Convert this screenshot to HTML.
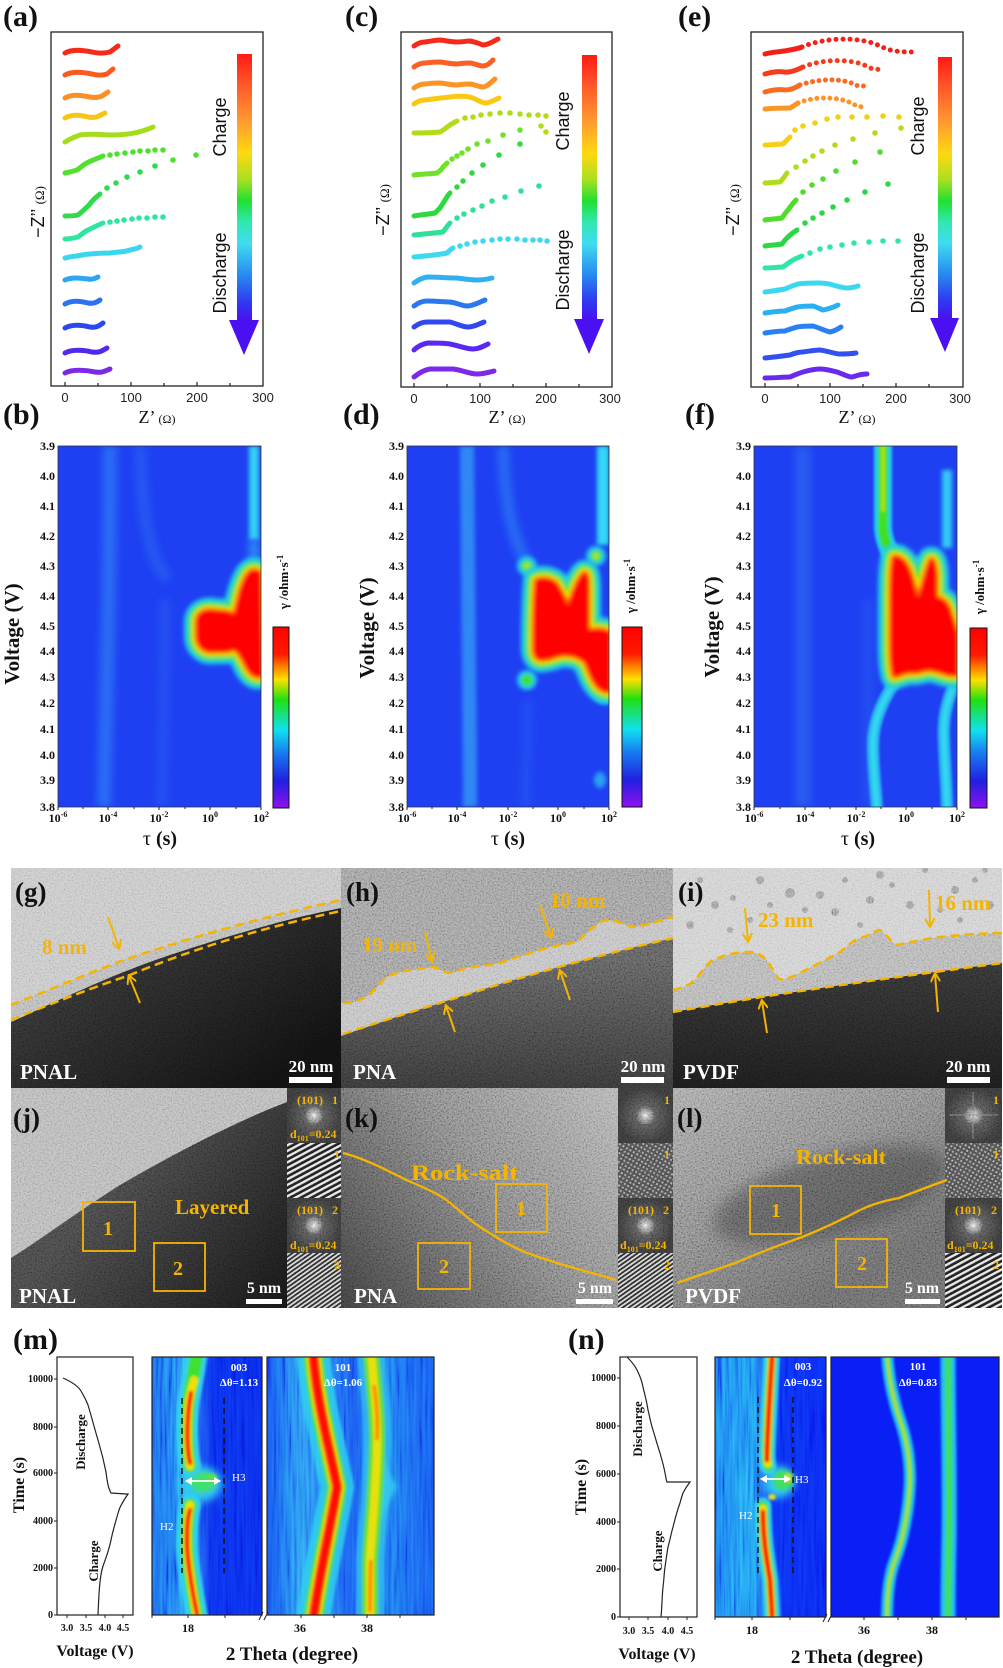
<!DOCTYPE html>
<html><head><meta charset="utf-8">
<style>
html,body{margin:0;padding:0;background:#fff;}
svg{display:block;}
.L{font-family:"Liberation Serif",serif;font-weight:bold;font-size:30px;fill:#111;}
.S{font-family:"Liberation Sans",sans-serif;}
.R{font-family:"Liberation Serif",serif;}
.B{font-family:"Liberation Serif",serif;font-weight:bold;}
.or{fill:#f5b400;}
.wh{fill:#fff;}
</style></head><body>
<svg width="1003" height="1668" viewBox="0 0 1003 1668" xmlns="http://www.w3.org/2000/svg">
<defs>
<linearGradient id="arrowG" x1="0" y1="0" x2="0" y2="1">
<stop offset="0" stop-color="#ff1a14"/><stop offset="0.12" stop-color="#ff5a2a"/><stop offset="0.25" stop-color="#ff9a30"/><stop offset="0.37" stop-color="#ffd810"/><stop offset="0.47" stop-color="#a8e020"/><stop offset="0.55" stop-color="#20e030"/><stop offset="0.63" stop-color="#30e8b0"/><stop offset="0.71" stop-color="#40dcf0"/><stop offset="0.82" stop-color="#2890f0"/><stop offset="0.93" stop-color="#3038f0"/><stop offset="1" stop-color="#4a10f0"/>
</linearGradient>
<linearGradient id="cbG" x1="0" y1="0" x2="0" y2="1">
<stop offset="0" stop-color="#ff0000"/><stop offset="0.15" stop-color="#ff1a00"/><stop offset="0.22" stop-color="#ff8000"/><stop offset="0.29" stop-color="#ffe000"/><stop offset="0.4" stop-color="#20e010"/><stop offset="0.57" stop-color="#10e0f0"/><stop offset="0.7" stop-color="#1878f0"/><stop offset="0.85" stop-color="#2020e0"/><stop offset="1" stop-color="#9010f0"/>
</linearGradient>
<filter id="b1" filterUnits="userSpaceOnUse" x="0" y="0" width="1003" height="1668"><feGaussianBlur stdDeviation="1.2"/></filter>
<filter id="b2" filterUnits="userSpaceOnUse" x="0" y="0" width="1003" height="1668"><feGaussianBlur stdDeviation="2"/></filter>
<filter id="b4" filterUnits="userSpaceOnUse" x="0" y="0" width="1003" height="1668"><feGaussianBlur stdDeviation="4"/></filter>
<filter id="b8" filterUnits="userSpaceOnUse" x="0" y="0" width="1003" height="1668"><feGaussianBlur stdDeviation="8"/></filter>
<filter id="nz" filterUnits="userSpaceOnUse" x="11" y="868" width="991" height="440">
<feTurbulence type="fractalNoise" baseFrequency="0.65" numOctaves="2" seed="5"/>
<feColorMatrix type="matrix" values="1.6 0 0 0 -0.3  1.6 0 0 0 -0.3  1.6 0 0 0 -0.3  0 0 0 0 1"/>
</filter>
<filter id="nzs" filterUnits="userSpaceOnUse" x="140" y="1350" width="870" height="275">
<feTurbulence type="fractalNoise" baseFrequency="0.35 0.015" numOctaves="2" seed="3"/>
<feColorMatrix type="matrix" values="1.8 0 0 0 -0.4  1.8 0 0 0 -0.4  1.8 0 0 0 -0.4  0 0 0 0 1"/>
</filter>
<pattern id="lat1" width="5" height="5" patternUnits="userSpaceOnUse" patternTransform="rotate(-28)"><rect width="5" height="5" fill="#1e1e1e"/><rect width="5" height="2.3" fill="#e6e6e6"/></pattern>
<pattern id="lat2" width="3.6" height="3.6" patternUnits="userSpaceOnUse" patternTransform="rotate(-35)"><rect width="3.6" height="3.6" fill="#2a2a2a"/><rect width="3.6" height="1.7" fill="#d8d8d8"/></pattern>
<pattern id="lat3" width="4" height="4" patternUnits="userSpaceOnUse" patternTransform="rotate(30)"><rect width="4" height="4" fill="#4a4a4a"/><rect width="2" height="2" fill="#9a9a9a"/></pattern>
<radialGradient id="fft" cx="0.5" cy="0.5" r="0.5"><stop offset="0" stop-color="#f4f4f4"/><stop offset="0.1" stop-color="#b0b0b0"/><stop offset="0.35" stop-color="#545454"/><stop offset="1" stop-color="#363636"/></radialGradient>
<linearGradient id="gDark" gradientUnits="userSpaceOnUse" x1="150" y1="930" x2="260" y2="1088"><stop offset="0" stop-color="#2e2e2e"/><stop offset="1" stop-color="#101010"/></linearGradient>
<linearGradient id="hDark" gradientUnits="userSpaceOnUse" x1="0" y1="960" x2="0" y2="1088"><stop offset="0" stop-color="#5a5a5a"/><stop offset="1" stop-color="#343434"/></linearGradient>
<linearGradient id="iDark" gradientUnits="userSpaceOnUse" x1="0" y1="970" x2="0" y2="1088"><stop offset="0" stop-color="#303030"/><stop offset="1" stop-color="#1a1a1a"/></linearGradient>
<linearGradient id="jDark" gradientUnits="userSpaceOnUse" x1="120" y1="1170" x2="287" y2="1308"><stop offset="0" stop-color="#444"/><stop offset="1" stop-color="#141414"/></linearGradient>
<linearGradient id="kBg" gradientUnits="userSpaceOnUse" x1="618" y1="1088" x2="341" y2="1308"><stop offset="0" stop-color="#acacac"/><stop offset="0.5" stop-color="#787878"/><stop offset="1" stop-color="#3a3a3a"/></linearGradient>
<linearGradient id="lBg" gradientUnits="userSpaceOnUse" x1="673" y1="1088" x2="800" y2="1308"><stop offset="0" stop-color="#a0a0a0"/><stop offset="1" stop-color="#646464"/></linearGradient>
<linearGradient id="mL" x1="0" y1="0" x2="1" y2="0"><stop offset="0" stop-color="#1a60ec"/><stop offset="0.2" stop-color="#1e74f0"/><stop offset="0.3" stop-color="#2a94f0"/><stop offset="0.45" stop-color="#1848f0"/><stop offset="0.55" stop-color="#0a2cec"/><stop offset="1" stop-color="#0a2aec"/></linearGradient>
<linearGradient id="mR" x1="0" y1="0" x2="1" y2="0"><stop offset="0" stop-color="#1650f0"/><stop offset="0.08" stop-color="#1c68f0"/><stop offset="0.2" stop-color="#2a90f0"/><stop offset="0.5" stop-color="#1a58f0"/><stop offset="0.75" stop-color="#1c70f0"/><stop offset="0.9" stop-color="#1a60f0"/><stop offset="1" stop-color="#1656f0"/></linearGradient>
<linearGradient id="nL" x1="0" y1="0" x2="1" y2="0"><stop offset="0" stop-color="#1a74f0"/><stop offset="0.2" stop-color="#1e86f0"/><stop offset="0.33" stop-color="#2090f0"/><stop offset="0.42" stop-color="#1a5cf0"/><stop offset="0.5" stop-color="#0a2ef2"/><stop offset="1" stop-color="#0a26f2"/></linearGradient>
<clipPath id="cb"><rect x="58" y="446" width="203" height="361"/></clipPath>
<clipPath id="cd"><rect x="407" y="446" width="202" height="361"/></clipPath>
<clipPath id="cf"><rect x="754" y="446" width="203" height="361"/></clipPath>
<clipPath id="cml"><rect x="152" y="1357" width="110" height="258"/></clipPath>
<clipPath id="cmr"><rect x="267" y="1357" width="167" height="258"/></clipPath>
<clipPath id="cnl"><rect x="715" y="1357" width="111" height="260"/></clipPath>
<clipPath id="cnr"><rect x="831" y="1357" width="168" height="260"/></clipPath>
<clipPath id="cg"><rect x="11" y="868" width="330" height="220"/></clipPath>
<clipPath id="ch"><rect x="341" y="868" width="332" height="220"/></clipPath>
<clipPath id="ci"><rect x="673" y="868" width="329" height="220"/></clipPath>
<clipPath id="cj"><rect x="11" y="1088" width="276" height="220"/></clipPath>
<clipPath id="ck"><rect x="341" y="1088" width="277" height="220"/></clipPath>
<clipPath id="cl"><rect x="673" y="1088" width="272" height="220"/></clipPath>
<path id="pb" d="M196,622 C196,612 205,608 215,610 C222,611 228,610 234,614 C237,600 240,585 246,575 C252,566 258,570 261,572 L263,676 C256,680 250,675 246,668 C242,660 238,652 234,650 C228,653 222,652 215,652 C205,654 196,648 196,635 Z"/>
<path id="pd" d="M535,580 C542,576 550,578 556,582 C562,590 566,600 568,605 C572,592 578,576 584,572 C588,572 589,576 589,590 L589,630 C595,628 603,628 611,632 L611,692 C603,694 596,688 592,680 C588,672 586,665 584,662 C578,658 574,656 568,656 C560,654 552,660 545,660 C538,662 533,658 533,648 C533,630 533,605 535,580 Z"/>
<path id="pf" d="M893,556 C900,555 906,560 910,570 C914,580 916,592 918,597 C922,585 926,565 930,559 C934,557 936,562 937,575 L937,597 C942,598 946,600 949,606 C952,614 955,625 958,633 L958,675 C950,678 940,672 933,671 C925,669 920,674 913,673 C905,672 898,678 893,677 C889,665 890,640 890,610 C890,585 890,565 893,556 Z"/>
<marker id="ah" markerWidth="10" markerHeight="10" refX="8" refY="5" orient="auto" markerUnits="userSpaceOnUse"><path d="M0,0 L9,5 L0,10" fill="none" stroke="#f5b400" stroke-width="2"/></marker>
<marker id="wh" markerWidth="8" markerHeight="8" refX="6" refY="4" orient="auto-start-reverse" markerUnits="userSpaceOnUse"><path d="M0,0 L7,4 L0,8 Z" fill="#fff"/></marker>
</defs>

<!-- ===== Row 1: EIS panels ===== -->
<text class="L" x="3" y="26">(a)</text>
<text class="L" x="345" y="26">(c)</text>
<text class="L" x="678" y="26">(e)</text>

<g fill="none" stroke="#222" stroke-width="1.3">
<rect x="51" y="32" width="212" height="354"/>
<rect x="401" y="32" width="211" height="355"/>
<rect x="751" y="32" width="212" height="355"/>
</g>
<g stroke="#222" stroke-width="1.2">
<path d="M65,386v-4M98,386v-3M131,386v-4M164,386v-3M197,386v-4M230,386v-3"/>
<path d="M414,387v-4M447,387v-3M480,387v-4M513,387v-3M546,387v-4M579,387v-3"/>
<path d="M765,387v-4M798,387v-3M830,387v-4M863,387v-3M896,387v-4M929,387v-3"/>
</g>
<g class="S" font-size="13" fill="#222" text-anchor="middle">
<text x="65" y="402">0</text><text x="131" y="402">100</text><text x="197" y="402">200</text><text x="263" y="402">300</text>
<text x="414" y="403">0</text><text x="480" y="403">100</text><text x="546" y="403">200</text><text x="610" y="403">300</text>
<text x="765" y="403">0</text><text x="830" y="403">100</text><text x="896" y="403">200</text><text x="960" y="403">300</text>
</g>
<g class="R" fill="#111" text-anchor="middle">
<text x="157" y="423"><tspan font-size="18">Z’</tspan><tspan font-size="12"> (Ω)</tspan></text>
<text x="507" y="423"><tspan font-size="18">Z’</tspan><tspan font-size="12"> (Ω)</tspan></text>
<text x="857" y="423"><tspan font-size="18">Z’</tspan><tspan font-size="12"> (Ω)</tspan></text>
</g>
<g fill="#111" text-anchor="middle">
<text transform="translate(44,212) rotate(-90)"><tspan class="S" font-size="18">−Z’’ </tspan><tspan class="R" font-size="13">(Ω)</tspan></text>
<text transform="translate(389,210) rotate(-90)"><tspan class="S" font-size="18">−Z’’ </tspan><tspan class="R" font-size="13">(Ω)</tspan></text>
<text transform="translate(739,210) rotate(-90)"><tspan class="S" font-size="18">−Z’’ </tspan><tspan class="R" font-size="13">(Ω)</tspan></text>
</g>
<!-- arrows -->
<rect x="237" y="54" width="15" height="267" fill="url(#arrowG)"/>
<polygon points="229,320 259,320 244,355" fill="#4a10f2"/>
<rect x="582" y="55" width="15" height="265" fill="url(#arrowG)"/>
<polygon points="574,319 604,319 589,354" fill="#4a10f2"/>
<rect x="938" y="57" width="14" height="262" fill="url(#arrowG)"/>
<polygon points="930,318 959,318 945,352" fill="#4a10f2"/>
<g class="S" font-size="18" fill="#111" text-anchor="middle">
<text transform="translate(226,127) rotate(-90)">Charge</text>
<text transform="translate(226,273) rotate(-90)">Discharge</text>
<text transform="translate(569,121) rotate(-90)">Charge</text>
<text transform="translate(569,270) rotate(-90)">Discharge</text>
<text transform="translate(924,126) rotate(-90)">Charge</text>
<text transform="translate(924,273) rotate(-90)">Discharge</text>
</g>

<!-- (a) curves -->
<g fill="none" stroke-width="5" stroke-linecap="round" stroke-linejoin="round">
<path stroke="#f42b1b" d="M65,53 C72,49 82,50 92,52 C100,54 106,53 110,52 L118,46"/>
<path stroke="#fa5a22" d="M65,75 C72,71 82,72 92,74 C99,76 104,75 107,74 L113,69"/>
<path stroke="#fb8f25" d="M65,98 C72,94 80,95 90,97 C96,98 100,97 102,96 L108,92"/>
<path stroke="#f9c515" d="M65,118 C72,114 80,115 88,117 C94,118 97,117 99,116 L105,113"/>
<path stroke="#a5dc1c" d="M65,142 C70,139 74,137 80,135 C90,133 100,135 112,135 C125,135 140,133 153,127"/>
<path stroke="#4fe030" d="M65,173 C70,172 74,171 77,170 C80,168 82,166 85,164 C90,161 96,159 103,156"/>
<path stroke="#32d94a" d="M65,216 C70,216 74,216 78,215 C82,212 86,208 89,205 C92,201 96,197 100,194"/>
<path stroke="#2fe6a0" d="M65,239 C70,239 74,238 78,237 C81,235 83,233 86,231 C90,229 96,226 103,223"/>
<path stroke="#3ad6f0" d="M65,258 C70,257 73,256 77,256 C82,255 86,254 90,254 C100,253 105,253 110,253 C118,252 125,252 130,250 C135,249 138,248 140,247"/>
<path stroke="#2aa6f2" d="M65,280 C72,277 80,278 88,279 C93,280 96,278 98,277"/>
<path stroke="#2a74f2" d="M65,304 C72,300 80,301 88,303 C94,304 97,302 100,300"/>
<path stroke="#2a48f0" d="M65,328 C72,324 82,325 90,327 C96,328 99,326 103,323"/>
<path stroke="#5128ee" d="M65,353 C72,349 84,350 92,352 C99,353 102,351 107,348"/>
<path stroke="#7a2ae6" d="M65,373 C72,369 86,370 95,372 C102,373 105,371 110,369"/>
</g>
<g fill="#4fe030"><circle cx="110" cy="155" r="2.8"/><circle cx="117" cy="154" r="2.8"/><circle cx="125" cy="153" r="2.8"/><circle cx="133" cy="152" r="2.8"/><circle cx="140" cy="151" r="2.8"/><circle cx="148" cy="151" r="2.8"/><circle cx="155" cy="150" r="2.8"/><circle cx="163" cy="150" r="2.8"/><circle cx="173" cy="160" r="2.8"/><circle cx="196" cy="155" r="2.8"/></g>
<g fill="#32d94a"><circle cx="107" cy="188" r="2.8"/><circle cx="116" cy="183" r="2.8"/><circle cx="127" cy="177" r="2.8"/><circle cx="140" cy="172" r="2.8"/><circle cx="155" cy="166" r="2.8"/></g>
<g fill="#2fe6a0"><circle cx="110" cy="222" r="2.8"/><circle cx="117" cy="221" r="2.8"/><circle cx="124" cy="220" r="2.8"/><circle cx="132" cy="219" r="2.8"/><circle cx="139" cy="218" r="2.8"/><circle cx="147" cy="218" r="2.8"/><circle cx="155" cy="217" r="2.8"/><circle cx="163" cy="217" r="2.8"/></g>

<!-- (c) curves -->
<g fill="none" stroke-width="5" stroke-linecap="round" stroke-linejoin="round">
<path stroke="#f42b1b" d="M414,46 C418,43 421,42 425,42 C432,41 436,40 440,40 C448,41 452,42 457,42 C463,42 466,41 470,41 C476,42 480,44 483,45 C488,45 492,42 498,39"/>
<path stroke="#fa6022" d="M414,67 C418,64 421,63 425,63 C432,62 436,62 440,62 C448,63 452,64 457,64 C463,63 466,63 470,63 C476,64 480,66 483,66 C487,66 490,63 493,60"/>
<path stroke="#fb9325" d="M414,88 C418,85 421,84 425,84 C432,83 436,83 440,83 C448,84 452,85 457,85 C463,84 466,84 470,84 C476,85 480,87 483,87 C487,87 490,83 495,79"/>
<path stroke="#f9c815" d="M414,104 C418,101 421,100 425,100 C432,99 440,98 450,97 C458,96 464,96 470,97 C476,99 480,102 485,103 C490,103 494,100 499,98"/>
<path stroke="#b0dc1c" d="M414,133 C420,133 430,133 440,132 C444,130 447,127 450,125 C453,123 455,122 457,121"/>
<path stroke="#70e028" d="M414,175 C420,174 430,174 437,173 C440,171 442,169 443,167 C445,165 446,164 447,163"/>
<path stroke="#2fd840" d="M414,216 C420,215 430,214 435,213 C437,211 439,209 440,208 C442,205 444,202 445,200 C447,197 448,195 450,193"/>
<path stroke="#30e098" d="M414,235 C425,234 435,233 443,232 C446,228 448,225 450,223"/>
<path stroke="#40d8f0" d="M414,257 C425,256 438,255 447,253 C449,251 451,249 453,248"/>
<path stroke="#30b0f0" d="M414,283 C418,280 422,278 427,277 C437,277 447,278 457,278 C465,279 471,280 477,280 C483,280 488,279 492,278"/>
<path stroke="#2a78f0" d="M414,306 C418,303 422,301 427,301 C437,301 444,302 450,302 C458,303 462,306 467,306 C473,306 480,302 485,300"/>
<path stroke="#3048f0" d="M414,327 C418,324 422,322 427,322 C437,322 444,322 450,322 C458,324 462,327 468,327 C474,327 479,324 484,322"/>
<path stroke="#5a28f0" d="M414,350 C418,346 422,344 428,343 C437,343 444,343 450,344 C460,346 466,349 473,349 C479,349 484,346 488,344"/>
<path stroke="#7a2ae8" d="M414,377 C419,373 424,370 430,369 C440,369 447,369 453,369 C462,370 470,374 477,374 C484,374 490,372 494,371"/>
</g>
<g fill="#b0dc1c"><circle cx="465" cy="118" r="2.8"/><circle cx="473" cy="117" r="2.8"/><circle cx="481" cy="115" r="2.8"/><circle cx="490" cy="114" r="2.8"/><circle cx="500" cy="113" r="2.8"/><circle cx="510" cy="113" r="2.8"/><circle cx="520" cy="114" r="2.8"/><circle cx="529" cy="115" r="2.8"/><circle cx="538" cy="115" r="2.8"/><circle cx="546" cy="116" r="2.8"/><circle cx="541" cy="126" r="2.8"/><circle cx="546" cy="132" r="2.8"/></g>
<g fill="#70e028"><circle cx="452" cy="159" r="2.8"/><circle cx="457" cy="156" r="2.8"/><circle cx="462" cy="153" r="2.8"/><circle cx="468" cy="149" r="2.8"/><circle cx="477" cy="144" r="2.8"/><circle cx="488" cy="141" r="2.8"/><circle cx="503" cy="135" r="2.8"/><circle cx="520" cy="130" r="2.8"/></g>
<g fill="#2fd840"><circle cx="457" cy="187" r="2.8"/><circle cx="463" cy="181" r="2.8"/><circle cx="472" cy="173" r="2.8"/><circle cx="483" cy="165" r="2.8"/><circle cx="499" cy="155" r="2.8"/><circle cx="520" cy="144" r="2.8"/></g>
<g fill="#30e098"><circle cx="457" cy="218" r="2.8"/><circle cx="464" cy="214" r="2.8"/><circle cx="473" cy="210" r="2.8"/><circle cx="482" cy="206" r="2.8"/><circle cx="492" cy="201" r="2.8"/><circle cx="505" cy="197" r="2.8"/><circle cx="521" cy="191" r="2.8"/><circle cx="539" cy="186" r="2.8"/></g>
<g fill="#40d8f0"><circle cx="460" cy="246" r="2.8"/><circle cx="467" cy="244" r="2.8"/><circle cx="475" cy="242" r="2.8"/><circle cx="483" cy="241" r="2.8"/><circle cx="492" cy="240" r="2.8"/><circle cx="500" cy="239" r="2.8"/><circle cx="508" cy="239" r="2.8"/><circle cx="517" cy="239" r="2.8"/><circle cx="525" cy="240" r="2.8"/><circle cx="533" cy="240" r="2.8"/><circle cx="540" cy="240" r="2.8"/><circle cx="547" cy="241" r="2.8"/></g>

<!-- (e) curves -->
<g fill="none" stroke-width="5" stroke-linecap="round" stroke-linejoin="round">
<path stroke="#f42018" d="M765,54 C772,52 778,52 784,51 C790,50 797,49 802,47"/>
<path stroke="#f42018" stroke-dasharray="0 7" d="M802,47 C825,37 862,36 882,47 C892,52 905,52 915,52"/>
<path stroke="#f63a1c" d="M765,74 C772,72 778,71 784,72 C790,73 797,70 803,67"/>
<path stroke="#f63a1c" stroke-dasharray="0 7" d="M803,67 C825,58 855,59 868,67 C874,70 879,70 883,68"/>
<path stroke="#fa6a20" d="M765,92 C772,90 778,89 785,90 C792,90 796,87 800,85"/>
<path stroke="#fa6a20" stroke-dasharray="0 6.5" d="M800,85 C820,78 845,78 858,86 L866,86"/>
<path stroke="#fb9525" d="M765,109 C775,108 782,108 790,108 C794,106 796,104 798,103"/>
<path stroke="#fb9525" stroke-dasharray="0 6.5" d="M798,103 C815,96 840,96 855,105 L862,107"/>
<path stroke="#f5d010" d="M765,145 C772,145 778,144 783,144 C786,141 788,139 790,137"/>
<path stroke="#b0dc1c" d="M765,183 C770,183 776,182 780,182 C783,179 785,176 787,173"/>
<path stroke="#50dc2c" d="M765,220 C770,219 776,219 782,218 C784,215 786,212 788,210 C791,206 793,203 796,200"/>
<path stroke="#2ad846" d="M765,246 C770,245 776,245 782,244 C784,241 786,239 788,237 C791,234 794,232 797,230"/>
<path stroke="#2ee6a8" d="M765,268 C772,268 778,267 783,267 C786,265 788,263 790,262 C794,259 797,258 802,256"/>
<path stroke="#3ad8f0" d="M765,292 C772,291 780,290 785,289 C790,287 794,285 798,284 C805,283 812,283 817,283 C825,283 830,284 833,285 C840,287 845,288 847,288 C852,288 855,287 858,286"/>
<path stroke="#2ab0f2" d="M765,313 C772,312 780,311 785,311 C790,309 794,308 797,307 C803,306 808,306 813,306 C817,307 820,309 823,310 C829,309 834,307 838,305"/>
<path stroke="#2a80f2" d="M765,333 C772,332 780,331 785,331 C790,329 794,328 797,327 C803,326 808,326 813,326 C820,328 825,331 830,332 C835,331 838,329 841,327"/>
<path stroke="#3050f0" d="M765,358 C775,357 783,356 790,355 C795,353 799,352 803,352 C810,351 815,350 820,350 C828,351 835,354 840,354 C845,354 850,354 856,353"/>
<path stroke="#6a2aee" d="M765,378 C775,378 783,377 790,377 C795,375 799,373 803,372 C810,370 815,369 820,369 C827,369 832,371 837,372 C843,374 848,377 852,377 C856,376 860,374 867,374"/>
</g>
<g fill="#f5d010"><circle cx="795" cy="130" r="2.8"/><circle cx="803" cy="126" r="2.8"/><circle cx="815" cy="123" r="2.8"/><circle cx="827" cy="119" r="2.8"/><circle cx="838" cy="117" r="2.8"/><circle cx="852" cy="117" r="2.8"/><circle cx="867" cy="117" r="2.8"/><circle cx="883" cy="116" r="2.8"/><circle cx="899" cy="117" r="2.8"/></g>
<circle cx="901" cy="128" r="2.8" fill="#b8dc1a"/>
<g fill="#b0dc1c"><circle cx="796" cy="167" r="2.8"/><circle cx="805" cy="161" r="2.8"/><circle cx="813" cy="156" r="2.8"/><circle cx="822" cy="151" r="2.8"/><circle cx="835" cy="145" r="2.8"/><circle cx="853" cy="139" r="2.8"/><circle cx="875" cy="133" r="2.8"/></g>
<g fill="#50dc2c"><circle cx="803" cy="192" r="2.8"/><circle cx="812" cy="185" r="2.8"/><circle cx="823" cy="179" r="2.8"/><circle cx="836" cy="171" r="2.8"/><circle cx="855" cy="162" r="2.8"/><circle cx="880" cy="152" r="2.8"/></g>
<g fill="#2ad846"><circle cx="805" cy="223" r="2.8"/><circle cx="813" cy="218" r="2.8"/><circle cx="822" cy="213" r="2.8"/><circle cx="833" cy="207" r="2.8"/><circle cx="847" cy="200" r="2.8"/><circle cx="865" cy="192" r="2.8"/><circle cx="888" cy="184" r="2.8"/></g>
<g fill="#2ee6a8"><circle cx="810" cy="253" r="2.8"/><circle cx="820" cy="249" r="2.8"/><circle cx="830" cy="247" r="2.8"/><circle cx="842" cy="245" r="2.8"/><circle cx="854" cy="243" r="2.8"/><circle cx="869" cy="242" r="2.8"/><circle cx="883" cy="241" r="2.8"/><circle cx="898" cy="241" r="2.8"/></g>

<!-- ===== Row 2: DRT heatmaps ===== -->
<text class="L" x="3" y="424">(b)</text>
<text class="L" x="343" y="424">(d)</text>
<text class="L" x="685" y="424">(f)</text>

<!-- (b) -->
<g clip-path="url(#cb)">
<rect x="58" y="446" width="203" height="361" fill="#1e40f2"/>
<path d="M110,446 C110,600 106,700 104,807" stroke="#2f7cf5" stroke-width="14" fill="none" filter="url(#b4)" opacity="0.75"/>
<path d="M140,446 C142,520 150,560 168,580" stroke="#2a62f4" stroke-width="12" fill="none" filter="url(#b4)" opacity="0.7"/>
<path d="M165,600 C165,680 163,750 162,807" stroke="#2a5ef4" stroke-width="10" fill="none" filter="url(#b4)" opacity="0.6"/>
<path d="M254,446 L254,540" stroke="#30d0f5" stroke-width="10" fill="none" filter="url(#b2)"/>
<path d="M254,540 L254,600" stroke="#2a8af5" stroke-width="10" fill="none" filter="url(#b4)"/>
<g filter="url(#b2)" stroke-linejoin="round">
<use href="#pb" fill="#22c8f2" stroke="#22c8f2" stroke-width="24"/>
<use href="#pb" fill="#2ee0a0" stroke="#2ee0a0" stroke-width="18"/>
<use href="#pb" fill="#40e020" stroke="#40e020" stroke-width="13"/>
<use href="#pb" fill="#f0f000" stroke="#f0f000" stroke-width="8"/>
<use href="#pb" fill="#ff7800" stroke="#ff7800" stroke-width="4"/>
<use href="#pb" fill="#ff0000"/>
</g>
</g>
<rect x="58" y="446" width="203" height="361" fill="none" stroke="#333" stroke-width="0.8"/>

<!-- (d) -->
<g clip-path="url(#cd)">
<rect x="407" y="446" width="202" height="361" fill="#1e40f2"/>
<path d="M467,446 C468,600 470,700 470,807" stroke="#3090f5" stroke-width="14" fill="none" filter="url(#b2)" opacity="0.9"/>
<path d="M503,446 C505,500 510,530 525,560" stroke="#2a74f5" stroke-width="12" fill="none" filter="url(#b4)" opacity="0.8"/>
<path d="M603,446 L603,545" stroke="#30d8f5" stroke-width="12" fill="none" filter="url(#b2)"/>
<path d="M528,700 C527,740 526,780 526,807" stroke="#2a5ef4" stroke-width="10" fill="none" filter="url(#b4)" opacity="0.5"/>
<ellipse cx="600" cy="780" rx="6" ry="8" fill="#2aa0f2" filter="url(#b2)"/>
<g filter="url(#b2)" stroke-linecap="round">
<path d="M527,566 L527,566 M596,556 L596,556 M527,680 L527,680 M603,693 L603,693" stroke="#22c8f2" stroke-width="20"/>
<path d="M527,566 L527,566 M596,556 L596,556 M527,680 L527,680 M603,693 L603,693" stroke="#40e020" stroke-width="12"/>
<path d="M527,566 L527,566 M596,556 L596,556" stroke="#d8f000" stroke-width="5"/>
</g>
<g filter="url(#b2)" stroke-linejoin="round">
<use href="#pd" fill="#22c8f2" stroke="#22c8f2" stroke-width="24"/>
<use href="#pd" fill="#2ee0a0" stroke="#2ee0a0" stroke-width="18"/>
<use href="#pd" fill="#40e020" stroke="#40e020" stroke-width="13"/>
<use href="#pd" fill="#f0f000" stroke="#f0f000" stroke-width="8"/>
<use href="#pd" fill="#ff7800" stroke="#ff7800" stroke-width="4"/>
<use href="#pd" fill="#ff0000"/>
</g>
</g>
<rect x="407" y="446" width="202" height="361" fill="none" stroke="#333" stroke-width="0.8"/>

<!-- (f) -->
<g clip-path="url(#cf)">
<rect x="754" y="446" width="203" height="361" fill="#1e40f2"/>
<path d="M803,446 L803,807" stroke="#2a62f2" stroke-width="16" fill="none" filter="url(#b4)" opacity="0.8"/>
<path d="M868,600 L868,807" stroke="#2a5ef2" stroke-width="10" fill="none" filter="url(#b4)" opacity="0.5"/>
<path d="M947,470 L947,548" stroke="#30c8f5" stroke-width="10" fill="none" filter="url(#b2)"/>
<g filter="url(#b1)" fill="none" stroke-linecap="round">
<path d="M883,446 L883,528 C884,540 888,550 893,556" stroke="#22c8f2" stroke-width="18"/>
<path d="M883,446 L883,528 C884,540 888,550 893,556" stroke="#40e020" stroke-width="10"/>
<path d="M883,446 L883,510" stroke="#a8e020" stroke-width="4"/>
<path d="M893,685 C880,705 873,725 873,745 C873,770 876,790 877,810" stroke="#2ab8f2" stroke-width="12"/>
<path d="M893,685 C880,705 873,725 873,745 C873,770 876,790 877,810" stroke="#30d8f0" stroke-width="5"/>
<path d="M952,690 C946,705 943,720 944,740 C945,770 947,790 947,810" stroke="#2ab8f2" stroke-width="12"/>
<path d="M952,690 C946,705 943,720 944,740 C945,770 947,790 947,810" stroke="#30d8f0" stroke-width="5"/>
</g>
<g filter="url(#b2)" stroke-linejoin="round">
<use href="#pf" fill="#22c8f2" stroke="#22c8f2" stroke-width="24"/>
<use href="#pf" fill="#2ee0a0" stroke="#2ee0a0" stroke-width="18"/>
<use href="#pf" fill="#40e020" stroke="#40e020" stroke-width="13"/>
<use href="#pf" fill="#f0f000" stroke="#f0f000" stroke-width="8"/>
<use href="#pf" fill="#ff7800" stroke="#ff7800" stroke-width="4"/>
<use href="#pf" fill="#ff0000"/>
</g>
</g>
<rect x="754" y="446" width="203" height="361" fill="none" stroke="#333" stroke-width="0.8"/>

<!-- DRT axes -->
<g class="B" font-size="12" fill="#111" text-anchor="end">
<text x="55" y="450">3.9</text><text x="55" y="480">4.0</text><text x="55" y="510">4.1</text><text x="55" y="540">4.2</text><text x="55" y="570">4.3</text><text x="55" y="600">4.4</text><text x="55" y="630">4.5</text><text x="55" y="655">4.4</text><text x="55" y="681">4.3</text><text x="55" y="707">4.2</text><text x="55" y="733">4.1</text><text x="55" y="759">4.0</text><text x="55" y="784">3.9</text><text x="55" y="811">3.8</text>
<text x="404" y="450">3.9</text><text x="404" y="480">4.0</text><text x="404" y="510">4.1</text><text x="404" y="540">4.2</text><text x="404" y="570">4.3</text><text x="404" y="600">4.4</text><text x="404" y="630">4.5</text><text x="404" y="655">4.4</text><text x="404" y="681">4.3</text><text x="404" y="707">4.2</text><text x="404" y="733">4.1</text><text x="404" y="759">4.0</text><text x="404" y="784">3.9</text><text x="404" y="811">3.8</text>
<text x="751" y="450">3.9</text><text x="751" y="480">4.0</text><text x="751" y="510">4.1</text><text x="751" y="540">4.2</text><text x="751" y="570">4.3</text><text x="751" y="600">4.4</text><text x="751" y="630">4.5</text><text x="751" y="655">4.4</text><text x="751" y="681">4.3</text><text x="751" y="707">4.2</text><text x="751" y="733">4.1</text><text x="751" y="759">4.0</text><text x="751" y="784">3.9</text><text x="751" y="811">3.8</text>
</g>
<g stroke="#222" stroke-width="1">
<path d="M58,807v3M108,807v3M159,807v3M210,807v3M261,807v3M83,807v2M134,807v2M185,807v2M236,807v2"/>
<path d="M407,807v3M457,807v3M508,807v3M558,807v3M609,807v3M432,807v2M483,807v2M533,807v2M584,807v2"/>
<path d="M754,807v3M805,807v3M856,807v3M906,807v3M957,807v3M780,807v2M830,807v2M881,807v2M932,807v2"/>
</g>
<g class="B" font-size="12" fill="#111" text-anchor="middle">
<text x="58" y="822">10<tspan font-size="8" dy="-5">-6</tspan></text><text x="108" y="822">10<tspan font-size="8" dy="-5">-4</tspan></text><text x="159" y="822">10<tspan font-size="8" dy="-5">-2</tspan></text><text x="210" y="822">10<tspan font-size="8" dy="-5">0</tspan></text><text x="261" y="822">10<tspan font-size="8" dy="-5">2</tspan></text>
<text x="407" y="822">10<tspan font-size="8" dy="-5">-6</tspan></text><text x="457" y="822">10<tspan font-size="8" dy="-5">-4</tspan></text><text x="508" y="822">10<tspan font-size="8" dy="-5">-2</tspan></text><text x="558" y="822">10<tspan font-size="8" dy="-5">0</tspan></text><text x="609" y="822">10<tspan font-size="8" dy="-5">2</tspan></text>
<text x="754" y="822">10<tspan font-size="8" dy="-5">-6</tspan></text><text x="805" y="822">10<tspan font-size="8" dy="-5">-4</tspan></text><text x="856" y="822">10<tspan font-size="8" dy="-5">-2</tspan></text><text x="906" y="822">10<tspan font-size="8" dy="-5">0</tspan></text><text x="957" y="822">10<tspan font-size="8" dy="-5">2</tspan></text>
</g>
<g class="B" font-size="20" fill="#111" text-anchor="middle">
<text x="160" y="845"><tspan font-weight="normal">τ</tspan>  (s)</text>
<text x="508" y="845"><tspan font-weight="normal">τ</tspan>  (s)</text>
<text x="858" y="845"><tspan font-weight="normal">τ</tspan>  (s)</text>
<text transform="translate(19,634) rotate(-90)" font-size="21">Voltage (V)</text>
<text transform="translate(374,628) rotate(-90)" font-size="21">Voltage (V)</text>
<text transform="translate(719,627) rotate(-90)" font-size="21">Voltage (V)</text>
</g>
<rect x="273" y="627" width="16" height="181" fill="url(#cbG)" stroke="#111" stroke-width="1"/>
<rect x="622" y="627" width="20" height="180" fill="url(#cbG)" stroke="#111" stroke-width="1"/>
<rect x="970" y="628" width="17" height="180" fill="url(#cbG)" stroke="#111" stroke-width="1"/>
<g class="B" font-size="13" fill="#111" text-anchor="middle">
<text transform="translate(288,582) rotate(-90)">γ /ohm·s<tspan font-size="9" dy="-5">-1</tspan></text>
<text transform="translate(635,586) rotate(-90)">γ /ohm·s<tspan font-size="9" dy="-5">-1</tspan></text>
<text transform="translate(984,587) rotate(-90)">γ /ohm·s<tspan font-size="9" dy="-5">-1</tspan></text>
</g>

<!-- ===== TEM top row ===== -->
<!-- (g) -->
<g clip-path="url(#cg)">
<rect x="11" y="868" width="330" height="220" fill="#c2c2c2"/>
<path d="M11,1005 C50,990 90,972 130,958 C190,938 250,920 341,900 L341,912 C260,928 190,950 130,975 C100,985 60,1000 11,1020 Z" fill="#b4b4b4"/>
<path d="M11,1022 C60,1000 110,975 170,955 C230,935 290,918 341,908 L341,1088 L11,1088 Z" fill="url(#gDark)"/>
</g>
<!-- (h) -->
<g clip-path="url(#ch)">
<rect x="341" y="868" width="332" height="220" fill="#989898"/>
<path d="M341,1003 C355,1003 368,1000 383,980 C392,972 410,970 433,967 C440,968 445,973 450,973 C458,972 465,967 473,967 C485,966 495,964 500,963 C520,956 540,950 550,947 C565,944 572,943 577,942 C590,930 600,920 607,920 C618,920 625,925 633,927 C648,925 660,920 673,917 L673,940 C620,950 560,966 500,984 C450,1000 400,1015 341,1036 Z" fill="#bcbcbc"/>
<path d="M341,1036 C400,1015 450,1000 500,984 C560,966 620,950 673,938 L673,1088 L341,1088 Z" fill="url(#hDark)"/>
</g>
<!-- (i) -->
<g clip-path="url(#ci)">
<rect x="673" y="868" width="329" height="220" fill="#cccccc"/>
<g fill="#8a8a8a" opacity="0.75">
<circle cx="715" cy="905" r="4"/><circle cx="733" cy="898" r="3"/><circle cx="760" cy="880" r="4"/><circle cx="790" cy="893" r="5"/><circle cx="805" cy="910" r="3"/><circle cx="835" cy="912" r="4"/><circle cx="845" cy="880" r="3"/><circle cx="870" cy="900" r="4"/><circle cx="892" cy="885" r="3"/><circle cx="910" cy="905" r="4"/><circle cx="925" cy="870" r="3"/><circle cx="955" cy="890" r="4"/><circle cx="975" cy="880" r="3"/><circle cx="990" cy="905" r="4"/><circle cx="700" cy="880" r="3"/><circle cx="770" cy="905" r="3"/><circle cx="820" cy="895" r="4"/><circle cx="860" cy="925" r="3"/><circle cx="940" cy="910" r="3"/><circle cx="985" cy="870" r="3"/><circle cx="730" cy="930" r="3"/><circle cx="690" cy="925" r="4"/><circle cx="750" cy="920" r="3"/><circle cx="880" cy="875" r="4"/><circle cx="960" cy="920" r="3"/>
</g>
<path d="M673,990 C680,988 687,987 695,980 C703,970 708,962 713,960 C725,955 735,952 750,952 C765,953 770,965 777,977 C780,981 785,980 800,973 C815,965 830,958 840,952 C848,946 853,940 860,938 C870,936 875,930 880,930 C885,932 890,942 897,945 C910,942 925,939 940,937 C960,935 985,933 1002,933 L1002,963 C850,983 750,998 673,1012 Z" fill="#b0b0b0"/>
<path d="M673,1012 C750,998 850,983 1002,963 L1002,1088 L673,1088 Z" fill="url(#iDark)"/>
</g>

<!-- ===== TEM bottom row ===== -->
<!-- (j) -->
<g clip-path="url(#cj)">
<rect x="11" y="1088" width="276" height="220" fill="url(#jDark)"/>
<path d="M11,1088 L287,1088 L287,1102 C240,1120 180,1150 120,1185 C80,1210 40,1240 11,1258 Z" fill="#b2b2b2"/>
</g>
<rect x="287" y="1088" width="54" height="55" fill="url(#fft)"/>
<rect x="287" y="1143" width="54" height="55" fill="url(#lat1)"/>
<rect x="287" y="1198" width="54" height="55" fill="url(#fft)"/>
<rect x="287" y="1253" width="54" height="55" fill="url(#lat2)"/>
<!-- (k) -->
<g clip-path="url(#ck)">
<rect x="341" y="1088" width="277" height="220" fill="url(#kBg)"/>
</g>
<rect x="618" y="1088" width="55" height="55" fill="url(#fft)"/>
<rect x="618" y="1143" width="55" height="55" fill="url(#lat3)"/>
<rect x="618" y="1198" width="55" height="55" fill="url(#fft)"/>
<rect x="618" y="1253" width="55" height="55" fill="url(#lat2)"/>
<!-- (l) -->
<g clip-path="url(#cl)">
<rect x="673" y="1088" width="272" height="220" fill="url(#lBg)"/>
<ellipse cx="830" cy="1195" rx="120" ry="40" transform="rotate(-15 830 1195)" fill="#3a3a3a" opacity="0.5" filter="url(#b8)"/>
</g>
<rect x="945" y="1088" width="57" height="55" fill="url(#fft)"/>
<path d="M973,1092 L973,1139 M949,1115 L998,1115" stroke="#777" stroke-width="1"/>
<rect x="945" y="1143" width="57" height="55" fill="url(#lat3)"/>
<rect x="945" y="1198" width="57" height="55" fill="url(#fft)"/>
<rect x="945" y="1253" width="57" height="55" fill="url(#lat1)"/>

<!-- noise overlay -->
<rect x="11" y="868" width="991" height="440" fill="#808080" filter="url(#nz)" style="mix-blend-mode:overlay" opacity="0.4"/>

<!-- TEM annotations -->
<g fill="none" stroke="#f5b400" stroke-width="2.5" stroke-dasharray="9 5">
<path d="M11,1005 C50,990 90,972 130,958 C190,938 250,920 341,900"/>
<path d="M11,1020 C60,1000 100,985 130,975 C190,950 260,928 341,911"/>
<path d="M343,1003 C355,1003 368,1000 383,980 C392,972 410,970 433,967 C440,968 445,973 450,973 C458,972 465,967 473,967 C485,966 495,964 500,963 C520,956 540,950 550,947 C565,944 572,943 577,942 C590,930 600,920 607,920 C618,920 625,925 633,927 C648,925 660,920 673,917"/>
<path d="M343,1034 C400,1015 450,1000 500,984 C560,966 620,950 673,938"/>
<path d="M673,990 C680,988 687,987 695,980 C703,970 708,962 713,960 C725,955 735,952 750,952 C765,953 770,965 777,977 C780,981 785,980 800,973 C815,965 830,958 840,952 C848,946 853,940 860,938 C870,936 875,930 880,930 C885,932 890,942 897,945 C910,942 925,939 940,937 C960,935 985,933 1002,933"/>
<path d="M673,1012 C750,998 850,983 1002,963"/>
</g>
<g stroke="#f5b400" stroke-width="2" marker-end="url(#ah)">
<line x1="108" y1="917" x2="119" y2="948"/>
<line x1="140" y1="1003" x2="129" y2="976"/>
<line x1="425" y1="932" x2="432" y2="961"/>
<line x1="455" y1="1032" x2="446" y2="1006"/>
<line x1="540" y1="905" x2="551" y2="937"/>
<line x1="570" y1="1000" x2="560" y2="971"/>
<line x1="745" y1="908" x2="748" y2="941"/>
<line x1="767" y1="1033" x2="762" y2="1001"/>
<line x1="929" y1="890" x2="930" y2="926"/>
<line x1="938" y1="1012" x2="935" y2="974"/>
</g>
<g class="B" font-size="21">
<text class="or" x="42" y="954">8 nm</text>
<text class="or" x="362" y="952">19 nm</text>
<text class="or" x="550" y="907">10 nm</text>
<text class="or" x="758" y="927">23 nm</text>
<text class="or" x="935" y="910">16 nm</text>
<text class="wh" x="20" y="1079">PNAL</text>
<text class="wh" x="353" y="1079">PNA</text>
<text class="wh" x="683" y="1079">PVDF</text>
</g>
<g class="B" font-size="17" fill="#fff" text-anchor="middle">
<text x="311" y="1072">20 nm</text><text x="643" y="1072">20 nm</text><text x="968" y="1072">20 nm</text>
</g>
<g fill="#fff"><rect x="289" y="1077" width="43" height="6"/><rect x="621" y="1077" width="43" height="6"/><rect x="947" y="1077" width="43" height="6"/></g>
<g class="B" font-size="27" fill="#111">
<text x="15" y="901">(g)</text><text x="346" y="901">(h)</text><text x="678" y="901">(i)</text>
<text x="13" y="1127">(j)</text><text x="345" y="1127">(k)</text><text x="677" y="1127">(l)</text>
</g>
<!-- j/k/l annotations -->
<g fill="none" stroke="#f5b400" stroke-width="1.8">
<rect x="83" y="1202" width="52" height="49"/><rect x="154" y="1243" width="51" height="48"/>
<rect x="496" y="1184" width="51" height="48"/><rect x="418" y="1243" width="52" height="46"/>
<rect x="750" y="1186" width="51" height="48"/><rect x="836" y="1239" width="51" height="48"/>
</g>
<g fill="none" stroke="#f5b400" stroke-width="2.3">
<path d="M343,1153 C370,1160 395,1175 411,1182 C430,1190 440,1195 449,1202 C465,1215 475,1225 488,1232 C505,1243 518,1250 533,1255 C560,1265 590,1272 616,1280"/>
<path d="M677,1283 C700,1275 720,1268 738,1262 C760,1252 780,1245 802,1237 C825,1228 845,1218 860,1210 C875,1203 888,1200 899,1198 C915,1192 930,1186 947,1180"/>
</g>
<g class="B" fill="#f5b400">
<text x="175" y="1214" font-size="21">Layered</text>
<text x="411" y="1180" font-size="22" textLength="107" lengthAdjust="spacingAndGlyphs">Rock-salt</text>
<text x="796" y="1164" font-size="21" textLength="90" lengthAdjust="spacingAndGlyphs">Rock-salt</text>
<g font-size="20" text-anchor="middle">
<text x="108" y="1235">1</text><text x="178" y="1275">2</text>
<text x="521" y="1215">1</text><text x="444" y="1273">2</text>
<text x="776" y="1217">1</text><text x="862" y="1270">2</text>
</g>
<g font-size="12">
<text x="297" y="1104">(101)</text><text x="332" y="1104">1</text>
<text x="290" y="1138">d<tspan font-size="8" dy="3">101</tspan><tspan dy="-3">=0.24</tspan></text>
<text x="334" y="1158">1</text>
<text x="297" y="1214">(101)</text><text x="332" y="1214">2</text>
<text x="290" y="1249">d<tspan font-size="8" dy="3">101</tspan><tspan dy="-3">=0.24</tspan></text>
<text x="334" y="1269">2</text>
<text x="664" y="1104">1</text><text x="664" y="1158">1</text>
<text x="628" y="1214">(101)</text><text x="663" y="1214">2</text>
<text x="620" y="1249">d<tspan font-size="8" dy="3">101</tspan><tspan dy="-3">=0.24</tspan></text>
<text x="664" y="1269">2</text>
<text x="993" y="1104">1</text><text x="993" y="1158">1</text>
<text x="955" y="1214">(101)</text><text x="991" y="1214">2</text>
<text x="947" y="1249">d<tspan font-size="8" dy="3">101</tspan><tspan dy="-3">=0.24</tspan></text>
<text x="993" y="1269">2</text>
</g>
</g>
<g class="B" font-size="21" fill="#fff">
<text x="19" y="1303">PNAL</text><text x="354" y="1303">PNA</text><text x="685" y="1303">PVDF</text>
</g>
<g class="B" font-size="16" fill="#fff" text-anchor="middle">
<text x="264" y="1293">5 nm</text><text x="595" y="1293">5 nm</text><text x="922" y="1293">5 nm</text>
</g>
<g fill="#fff"><rect x="246" y="1299" width="36" height="5"/><rect x="576" y="1299" width="37" height="5"/><rect x="905" y="1299" width="35" height="5"/></g>

<!-- ===== (m) ===== -->
<text class="L" x="13" y="1349">(m)</text>
<rect x="57" y="1357" width="76" height="258" fill="none" stroke="#222" stroke-width="1.2"/>
<path d="M63,1378 C72,1382 78,1386 81,1391 C84,1396 86,1400 88,1405 C91,1415 95,1430 98,1440 C101,1450 104,1462 106,1472 C107,1480 108,1488 111,1493 L126,1494 L128,1494 C124,1500 121,1504 119,1510 C116,1520 113,1530 111,1540 C109,1550 106,1558 103,1566 C100,1575 99,1590 98,1615" fill="none" stroke="#222" stroke-width="1.2"/>
<g stroke="#222" stroke-width="1"><path d="M54,1615h3M54,1568h3M54,1521h3M54,1473h3M54,1427h3M54,1379h3M67,1615v3M86,1615v3M105,1615v3M123,1615v3"/></g>
<g class="B" font-size="10" fill="#111" text-anchor="end">
<text x="53" y="1618">0</text><text x="53" y="1571">2000</text><text x="53" y="1524">4000</text><text x="53" y="1476">6000</text><text x="53" y="1430">8000</text><text x="53" y="1382">10000</text>
</g>
<g class="B" font-size="10" fill="#111" text-anchor="middle">
<text x="67" y="1631">3.0</text><text x="86" y="1631">3.5</text><text x="105" y="1631">4.0</text><text x="123" y="1631">4.5</text>
</g>
<g class="B" font-size="13" fill="#111" text-anchor="middle">
<text transform="translate(85,1442) rotate(-90)">Discharge</text>
<text transform="translate(98,1561) rotate(-90)">Charge</text>
</g>
<g class="B" font-size="16" fill="#111" text-anchor="middle">
<text x="95" y="1656">Voltage (V)</text>
<text transform="translate(24,1485) rotate(-90)">Time (s)</text>
<text x="292" y="1660" font-size="19">2 Theta (degree)</text>
</g>
<!-- (m) left heatmap -->
<g clip-path="url(#cml)">
<rect x="152" y="1357" width="110" height="258" fill="url(#mL)"/>
<rect x="152" y="1357" width="36" height="258" fill="#808080" filter="url(#nzs)" style="mix-blend-mode:overlay" opacity="0.45"/>
<ellipse cx="200" cy="1484" rx="22" ry="18" fill="#30c8f0" filter="url(#b4)"/>
<ellipse cx="203" cy="1482" rx="13" ry="10" fill="#40e070" filter="url(#b2)"/>
<ellipse cx="212" cy="1478" rx="5" ry="4" fill="#60e040" filter="url(#b1)"/>
<g fill="none" stroke-linecap="round" filter="url(#b1)">
<path d="M197,1350 C194,1380 188,1395 188,1413 C187,1430 187,1450 190,1466" stroke="#30d0f0" stroke-width="22"/>
<path d="M190,1505 C187,1520 187,1530 187,1545 C188,1565 192,1590 198,1622" stroke="#30d0f0" stroke-width="22"/>
<path d="M197,1350 C194,1380 188,1395 188,1413 C187,1430 187,1450 190,1466" stroke="#40e030" stroke-width="13"/>
<path d="M190,1505 C187,1520 187,1530 187,1545 C188,1565 192,1590 198,1622" stroke="#40e030" stroke-width="13"/>
<path d="M194,1380 C190,1395 188,1405 188,1413 C187,1430 187,1450 190,1466" stroke="#f0e000" stroke-width="8"/>
<path d="M190,1505 C187,1520 187,1530 187,1545 C188,1565 192,1590 198,1622" stroke="#f0e000" stroke-width="8"/>
<path d="M191,1393 C189,1405 188,1413 188,1418 C187,1430 187,1450 190,1463" stroke="#ff1000" stroke-width="4.5"/>
<path d="M190,1510 C187,1520 187,1530 187,1545 C188,1565 192,1590 197,1614" stroke="#ff1000" stroke-width="4.5"/>
</g>
</g>
<!-- (m) right heatmap -->
<g clip-path="url(#cmr)">
<rect x="267" y="1357" width="167" height="258" fill="url(#mR)"/>
<rect x="267" y="1357" width="167" height="258" fill="#808080" filter="url(#nzs)" style="mix-blend-mode:overlay" opacity="0.35"/>
<polygon points="378,1450 397,1487 378,1525" fill="#30c0f0" filter="url(#b2)"/>
<g fill="none" filter="url(#b1)">
<path d="M313,1350 C316,1400 330,1450 337,1487 C330,1530 318,1580 313,1622" stroke="#30d0f0" stroke-width="34" opacity="0.85"/>
<path d="M313,1350 C316,1400 330,1450 337,1487 C330,1530 318,1580 313,1622" stroke="#50e030" stroke-width="20"/>
<path d="M313,1350 C316,1400 330,1450 337,1487 C330,1530 318,1580 313,1622" stroke="#f0e010" stroke-width="14"/>
<path d="M313,1350 C316,1400 330,1450 337,1487 C330,1530 318,1580 313,1622" stroke="#ff7000" stroke-width="11"/>
<path d="M313,1350 C316,1400 330,1450 337,1487 C330,1530 318,1580 313,1622" stroke="#ff0a00" stroke-width="8"/>
<path d="M371,1350 C374,1390 378,1417 377,1450 C376,1487 372,1530 370,1560 C370,1590 370,1610 370,1622" stroke="#30c8f0" stroke-width="28" opacity="0.75"/>
<path d="M371,1350 C374,1390 378,1417 377,1450 C376,1487 372,1530 370,1560 C370,1590 370,1610 370,1622" stroke="#60e030" stroke-width="16"/>
<path d="M371,1350 C374,1390 378,1417 377,1450 C376,1487 372,1530 370,1560 C370,1590 370,1610 370,1622" stroke="#e8e010" stroke-width="8"/>
<path d="M374,1385 C377,1405 378,1420 377,1440" stroke="#ff9000" stroke-width="4"/>
<path d="M371,1560 C370,1580 370,1600 370,1612" stroke="#ff9000" stroke-width="4"/>
</g>
</g>
<g fill="none" stroke="#222" stroke-width="1.2"><rect x="152" y="1357" width="110" height="258"/><rect x="267" y="1357" width="167" height="258"/></g>
<g stroke="#111" stroke-width="1.5" stroke-dasharray="6 4"><line x1="182" y1="1398" x2="182" y2="1573"/><line x1="224" y1="1398" x2="224" y2="1573"/></g>
<line x1="186" y1="1481" x2="220" y2="1481" stroke="#fff" stroke-width="1.8" marker-start="url(#wh)" marker-end="url(#wh)"/>
<g class="R" font-size="11" fill="#fff">
<text x="232" y="1481">H3</text><text x="160" y="1530">H2</text>
</g>
<g class="B" font-size="11" fill="#fff" text-anchor="middle">
<text x="239" y="1371">003</text><text x="239" y="1386">Δθ=1.13</text>
<text x="343" y="1371">101</text><text x="343" y="1386">Δθ=1.06</text>
</g>
<g stroke="#222" stroke-width="1"><path d="M152,1615v3M188,1615v3M225,1615v3M301,1615v3M334,1615v3M367,1615v3M400,1615v3"/><path d="M259,1620l4,-8M264,1620l4,-8"/></g>
<g class="B" font-size="12" fill="#111" text-anchor="middle">
<text x="188" y="1632">18</text><text x="300" y="1632">36</text><text x="367" y="1632">38</text>
</g>

<!-- ===== (n) ===== -->
<text class="L" x="568" y="1349">(n)</text>
<rect x="620" y="1357" width="77" height="260" fill="none" stroke="#222" stroke-width="1.2"/>
<path d="M627,1357 C632,1362 635,1366 637,1370 C640,1376 642,1381 643,1387 C645,1395 647,1403 648,1410 C650,1418 651,1424 653,1430 C656,1440 658,1447 660,1453 C662,1460 664,1467 665,1473 C666,1477 666,1480 667,1482 L690,1482 C687,1486 685,1489 683,1493 C682,1496 681,1499 680,1503 C677,1511 675,1519 673,1527 C671,1534 670,1540 668,1547 C667,1553 666,1560 665,1567 C664,1574 664,1580 663,1587 C662,1597 662,1607 661,1617" fill="none" stroke="#222" stroke-width="1.2"/>
<g stroke="#222" stroke-width="1"><path d="M617,1617h3M617,1569h3M617,1522h3M617,1474h3M617,1426h3M617,1378h3M629,1617v3M648,1617v3M668,1617v3M687,1617v3"/></g>
<g class="B" font-size="10" fill="#111" text-anchor="end">
<text x="616" y="1620">0</text><text x="616" y="1572">2000</text><text x="616" y="1525">4000</text><text x="616" y="1477">6000</text><text x="616" y="1429">8000</text><text x="616" y="1381">10000</text>
</g>
<g class="B" font-size="10" fill="#111" text-anchor="middle">
<text x="629" y="1634">3.0</text><text x="648" y="1634">3.5</text><text x="668" y="1634">4.0</text><text x="687" y="1634">4.5</text>
</g>
<g class="B" font-size="13" fill="#111" text-anchor="middle">
<text transform="translate(642,1429) rotate(-90)">Discharge</text>
<text transform="translate(662,1551) rotate(-90)">Charge</text>
</g>
<g class="B" font-size="16" fill="#111" text-anchor="middle">
<text x="657" y="1659">Voltage (V)</text>
<text transform="translate(586,1487) rotate(-90)">Time (s)</text>
<text x="857" y="1663" font-size="19">2 Theta (degree)</text>
</g>
<!-- (n) left heatmap -->
<g clip-path="url(#cnl)">
<rect x="715" y="1357" width="111" height="260" fill="url(#nL)"/>
<rect x="715" y="1357" width="45" height="260" fill="#808080" filter="url(#nzs)" style="mix-blend-mode:overlay" opacity="0.45"/>
<ellipse cx="779" cy="1482" rx="16" ry="16" fill="#30c8f0" filter="url(#b4)"/>
<ellipse cx="783" cy="1480" rx="10" ry="10" fill="#40e060" filter="url(#b2)"/>
<ellipse cx="788" cy="1478" rx="4" ry="5" fill="#c0e020" filter="url(#b1)"/>
<ellipse cx="772" cy="1497" rx="4" ry="3" fill="#e0e020" filter="url(#b1)"/>
<g fill="none" stroke-linecap="round" filter="url(#b1)">
<path d="M772,1350 C770,1390 768,1420 767,1453 C767,1458 767,1462 768,1466" stroke="#30d0f0" stroke-width="17"/>
<path d="M763,1506 C763,1540 767,1560 770,1580 C771,1600 772,1610 772,1624" stroke="#30d0f0" stroke-width="17"/>
<path d="M772,1350 C770,1390 768,1420 767,1453 C767,1458 767,1462 768,1466" stroke="#40e030" stroke-width="10"/>
<path d="M763,1506 C763,1540 767,1560 770,1580 C771,1600 772,1610 772,1624" stroke="#40e030" stroke-width="10"/>
<path d="M772,1350 C770,1390 768,1420 767,1453 C767,1458 767,1462 768,1464" stroke="#f0e000" stroke-width="7"/>
<path d="M763,1508 C763,1540 767,1560 770,1580 C771,1600 772,1610 772,1624" stroke="#f0e000" stroke-width="7"/>
<path d="M772,1358 C770,1390 768,1420 767,1453 C767,1456 767,1458 767,1460" stroke="#ff1000" stroke-width="5"/>
<path d="M763,1512 C763,1540 767,1560 770,1580 C771,1600 772,1610 772,1616" stroke="#ff1000" stroke-width="5"/>
</g>
</g>
<!-- (n) right heatmap -->
<g clip-path="url(#cnr)">
<rect x="831" y="1357" width="168" height="260" fill="#0a1ef6"/>
<g fill="none" filter="url(#b1)">
<path d="M887,1350 C888,1380 895,1405 900,1420 C907,1440 910,1460 910,1480 C909,1510 903,1540 895,1560 C889,1575 887,1595 887,1624" stroke="#22c0f0" stroke-width="12"/>
<path d="M887,1350 C888,1380 895,1405 900,1420 C907,1440 910,1460 910,1480 C909,1510 903,1540 895,1560 C889,1575 887,1595 887,1624" stroke="#50e030" stroke-width="5"/>
<path d="M887,1350 C888,1380 895,1405 900,1420 C907,1440 910,1460 910,1480 C909,1510 903,1540 895,1560 C889,1575 887,1595 887,1624" stroke="#e0e020" stroke-width="1.5"/>
<path d="M948,1350 C948,1420 950,1480 949,1540 C948,1580 948,1600 948,1624" stroke="#22c0f0" stroke-width="15"/>
<path d="M948,1350 C948,1420 950,1480 949,1540 C948,1580 948,1600 948,1624" stroke="#40e050" stroke-width="6"/>
</g>
</g>
<g fill="none" stroke="#222" stroke-width="1.2"><rect x="715" y="1357" width="111" height="260"/><rect x="831" y="1357" width="168" height="260"/></g>
<g stroke="#111" stroke-width="1.5" stroke-dasharray="6 4"><line x1="758" y1="1397" x2="758" y2="1575"/><line x1="793" y1="1397" x2="793" y2="1575"/></g>
<line x1="761" y1="1479" x2="790" y2="1479" stroke="#fff" stroke-width="1.8" marker-start="url(#wh)" marker-end="url(#wh)"/>
<g class="R" font-size="11" fill="#fff">
<text x="795" y="1483">H3</text><text x="739" y="1519">H2</text>
</g>
<g class="B" font-size="11" fill="#fff" text-anchor="middle">
<text x="803" y="1370">003</text><text x="803" y="1386">Δθ=0.92</text>
<text x="918" y="1370">101</text><text x="918" y="1386">Δθ=0.83</text>
</g>
<g stroke="#222" stroke-width="1"><path d="M715,1617v3M752,1617v3M790,1617v3M864,1617v3M898,1617v3M932,1617v3M966,1617v3"/><path d="M823,1622l4,-8M828,1622l4,-8"/></g>
<g class="B" font-size="12" fill="#111" text-anchor="middle">
<text x="752" y="1634">18</text><text x="864" y="1634">36</text><text x="932" y="1634">38</text>
</g>
</svg>
</body></html>
